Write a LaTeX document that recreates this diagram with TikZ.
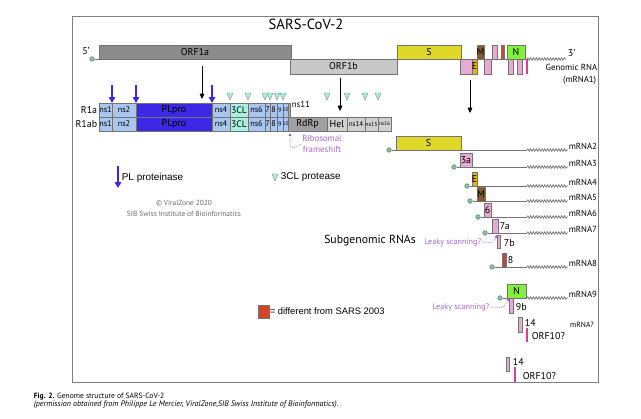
\documentclass[tikz,border=0pt]{standalone}
\usepackage{fontspec}
\setmainfont{PT Sans}
\newfontfamily\arialfont{Liberation Sans}
\usetikzlibrary{fit,arrows.meta,decorations.pathmorphing}

\definecolor{orfa}{RGB}{140,140,140}
\definecolor{orfb}{RGB}{200,200,200}
\definecolor{syel}{RGB}{224,216,40}
\definecolor{egold}{RGB}{232,176,32}
\definecolor{mbrown}{RGB}{130,90,50}
\definecolor{orfpink}{RGB}{232,170,210}
\definecolor{orfred}{RGB}{210,70,40}
\definecolor{ngreen}{RGB}{130,240,60}
\definecolor{orfmag}{RGB}{220,60,160}
\definecolor{nsblue}{RGB}{168,198,240}
\definecolor{plblue}{RGB}{60,40,230}
\definecolor{clcyan}{RGB}{168,240,224}
\definecolor{rdgray}{RGB}{160,160,160}
\definecolor{hlgray}{RGB}{208,208,208}
\definecolor{capgreen}{RGB}{140,190,160}
\definecolor{leaky}{RGB}{160,100,220}

\begin{document}
\begin{tikzpicture}[x=0.03cm,y=-0.03cm,
every node/.style={inner sep=0.5pt, font=\fontsize{7.5}{8.5}\selectfont},
seg/.style={draw=black!55, line width=0.4pt, inner sep=0pt, outer sep=0pt},
segtxt/.style={inner sep=0pt, font=\fontsize{7}{7.5}\selectfont},
mtxt/.style={inner sep=0pt, font=\fontsize{8.5}{9}\selectfont},
capdot/.style={circle, draw=capgreen!60!black, fill=capgreen, minimum size=4pt, inner sep=0pt, line width=0.3pt},
rna/.style={draw=black!55, line width=0.6pt},
polya/.style={rna, decorate, decoration={snake, amplitude=1.1pt, segment length=2.4pt}},
cleave/.style={-{Triangle[width=4pt,length=4.5pt]}, line width=0.6pt},
plcleave/.style={-{Triangle[width=5.5pt,length=5pt]}, line width=1.6pt, draw=plblue},
clcleave/.style={draw=black!50, fill=clcyan, line width=0.3pt},
lk/.style={leaky, densely dotted, line width=0.6pt, -{Triangle[width=2.5pt,length=2.5pt]}},
lktxt/.style={text=leaky, font=\fontsize{7}{8}\selectfont}
]
\useasboundingbox (0,0) rectangle (641,418);
\draw[black!50, line width=0.8pt] (72,16) rectangle (598,382);
\node[font=\fontsize{12.5}{14}\selectfont] (title) at (306,24) {SARS-CoV-2};

% genomic RNA
\node[capdot] (g5) at (92,59) {};
\node[font=\fontsize{8.5}{9}\selectfont] (p5) at (86,51) {5’};
\coordinate (g3) at (527,59);
\draw[rna, line width=0.8pt] (g5) -- (g3);
\draw[polya] (g3) -- (566,59) coordinate (gw);
\node[anchor=west, font=\fontsize{8.5}{9}\selectfont] (p3) at (567,53) {3’};
\node[anchor=east] (grna) at (598,67) {Genomic RNA};
\node[anchor=east] (mrna1) at (597,80) {(mRNA1)};

\foreach \n/\a/\b/\u/\v/\c/\t in {orf1a/99/291/45/59/orfa/ORF1a, orf1b/290/397/59/74/orfb/ORF1b,
    s/397/461/45/59/syel/S, 3a/460/472/59/74/orfpink/, e/472/477/59/74/egold/E,
    m/477/484/45/59/mbrown/M, 6/484/491/59/74/orfpink/, 7a/492/497/45/59/orfpink/,
    8/501/504/45/59/orfred/, n/507/525/45/59/ngreen/N, 9b/508/513/59/74/orfpink/,
    14/517/522/59/74/orfpink/}
  \node[seg, fill=\c, fit={(\a,\u)(\b,\v)}, label={[segtxt, font=\fontsize{8.5}{9}\selectfont]center:\t}] (g-\n) {};
\node[fill=orfmag, inner sep=0pt, fit={(525.5,59)(527.5,74)}] (g-10) {};

% polyproteins
\node[font=\fontsize{8.5}{9}\selectfont, anchor=east] (r1a) at (98,110) {R1a};
\node[font=\fontsize{8.5}{9}\selectfont, anchor=east] (r1ab) at (98,124) {R1ab};
\foreach \r/\u/\v in {a/103/117, ab/117/131}{
  \foreach \n/\a/\b/\c/\t in {ns1/99/112/nsblue/ns1, ns2/112/136/nsblue/ns2,
      plpro/136/212/plblue/{\fontsize{8.5}{9}\selectfont PLpro},
      ns4/212/230/nsblue/ns4, 3cl/230/248/clcyan/{\fontsize{8}{9}\selectfont 3CL}, ns6/248/265/nsblue/ns6,
      ns7/265/270/nsblue/7, ns8/270/277/nsblue/8,
      ns9/277/283/nsblue/{\fontsize{5.5}{5}\selectfont 9}, ns10/283/288/nsblue/{\fontsize{4.5}{4}\selectfont 10}}
    \node[seg, fill=\c, fit={(\a,\u)(\b,\v)}, label={[segtxt]center:\t}] (\r-\n) {};
}
\node[seg, fill=orfred!55, fit={(288,103)(290,117)}] (a-ns11) {};
\node[anchor=west] (ns11) at (291,104) {ns11};
\foreach \n/\a/\b/\c/\t in {rdrp/288/327/rdgray/{\fontsize{8.5}{9}\selectfont RdRp}, hel/327/347/hlgray/{\fontsize{8.5}{9}\selectfont Hel},
    ns14/347/365/hlgray/{\fontsize{6}{6}\selectfont ns14}, ns15/365/378/hlgray/{\fontsize{5}{5}\selectfont ns15},
    ns16/378/391/hlgray/{\fontsize{4.5}{5}\selectfont ns16}}
  \node[seg, fill=\c, fit={(\a,117)(\b,131)}, label={[segtxt]center:\t}] (ab-\n) {};

% cleavage sites
\coordinate (c1a) at (202,66); \coordinate (c1b) at (202,99);
\coordinate (c2a) at (340,78); \coordinate (c2b) at (340,111);
\coordinate (c3a) at (470,80); \coordinate (c3b) at (470,113);
\draw[cleave] (c1a) -- (c1b);
\draw[cleave] (c2a) -- (c2b);
\draw[cleave] (c3a) -- (c3b);
\foreach \x in {112,136,212}
  \draw[plcleave] (\x,85) -- (\x,103);
\foreach \x in {230,248,265,270,277,283,327,347,365,378}
  \draw[clcleave] (\x-3,93) -- (\x+3,93) -- (\x,100) -- cycle;

\node[lktxt, align=center, font=\fontsize{7.5}{9}\selectfont] (rfs) at (322,144) {Ribosomal\\frameshift};
\coordinate (rfa) at (290,133);
\draw[lk] (rfs.west) .. controls (290,150) .. (rfa);

% legend
\draw[plcleave] (118,166) -- (118,188);
\node[anchor=west, font=\arialfont\fontsize{8.5}{10}\selectfont] (lgpl) at (121,178) {PL proteinase};
\draw[clcleave] (272,174) -- (278,174) -- (275,181) -- cycle;
\node[anchor=west, font=\arialfont\fontsize{8.5}{10}\selectfont] (lgcl) at (280,177) {3CL protease};
\node[text=black!60, align=center, font=\fontsize{6.3}{9.3}\selectfont] (vz) at (184,208) {© ViralZone 2020\\SIB Swiss Institute of Bioinformatics};

% subgenomic RNAs
\node[font=\fontsize{10}{12}\selectfont] (sgrna) at (370,241) {Subgenomic RNAs};
\foreach \n/\d/\y/\a/\b/\c/\t/\o in {2/389/150/396/461/syel/S/, 3/454/167/460/472/orfpink/3a/,
    4/467/186/472/477/egold/E/, 5/470/201/477/485/mbrown/M/, 6/478/217/484/491/orfpink/6/,
    7/485/233/492/498/orfpink//7a, 8/492/267/502/506/orfred//8, 9/500/298/507/526/ngreen/N/}{
  \node[capdot] (c\n) at (\d,\y) {};
  \coordinate (w\n) at (527,\y);
  \draw[rna] (c\n) -- (w\n);
  \draw[polya] (w\n) -- (568,\y) coordinate (e\n);
  \node[seg, fill=\c, fit={(\a,\y-14)(\b,\y)}, label={[mtxt]center:\t},
        label={[mtxt, anchor=west, xshift=1.5pt]east:\o}] (m\n) {};
  \node[anchor=south west] (mr\n) at (e\n) {mRNA\n};
}

\node[seg, fill=orfpink, fit={(497,235)(500,248)}] (m7b) {};
\node[anchor=west, font=\fontsize{8.5}{9}\selectfont] (l7b) at (503,243) {7b};
\node[lktxt, anchor=east] (lk1) at (482,242) {Leaky scanning?};
\draw[lk] (lk1.east) .. controls (493,243) .. (m7b.north west);

\node[seg, fill=orfpink, fit={(509,298)(513,313)}] (m9b) {};
\node[anchor=west, font=\fontsize{8.5}{9}\selectfont] (l9b) at (515,307) {9b};
\node[lktxt, anchor=east] (lk2) at (490,307) {Leaky scanning?};
\draw[lk] (lk2.east) .. controls (504,308) .. (m9b.north west);

% ORF10
\node[seg, fill=orfpink, fit={(518,317)(522,332)}] (m14a) {};
\node[anchor=west, font=\fontsize{8.5}{9}\selectfont] (l14a) at (524,323) {14};
\node[fill=orfmag, inner sep=0pt, fit={(526,328)(528,342)}] (o10a) {};
\node[anchor=west, font=\fontsize{8.5}{9}\selectfont] (t10a) at (531,336) {ORF10?};
\node[font=\fontsize{6.5}{7}\selectfont] (mrq) at (582,325) {mRNA?};
\node[seg, fill=orfpink, fit={(506,357)(509,371)}] (m14b) {};
\node[anchor=west, font=\fontsize{8.5}{9}\selectfont] (l14b) at (512,362) {14};
\node[fill=orfmag, inner sep=0pt, fit={(514,367)(516,382)}] (o10b) {};
\node[anchor=west, font=\fontsize{8.5}{9}\selectfont] (t10b) at (522,376) {ORF10?};

% SARS 2003
\node[seg, fill=orfred, fit={(258,305)(269,318)}] (lgred) {};
\node[anchor=west, font=\arialfont\fontsize{8}{10}\selectfont] (lgtxt) at (lgred.east) {= different from SARS 2003};

% caption
\node[anchor=west, font=\fontsize{6.5}{7}\selectfont] (fig1) at (33,397) {\textbf{Fig. 2.} Genome structure of SARS-CoV-2};
\node[anchor=west, font=\fontsize{6.8}{7}\selectfont\itshape] (fig2) at (33,405) {(permission obtained from Philippe Le Mercier, ViralZone,SIB Swiss Institute of Bioinformatics).};
\end{tikzpicture}
\end{document}
